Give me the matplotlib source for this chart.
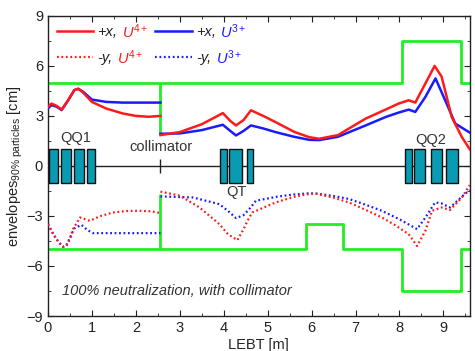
import numpy as np
import matplotlib
matplotlib.use("Agg")
import matplotlib.pyplot as plt

plt.rcParams['font.family'] = ['Liberation Sans', 'DejaVu Sans']
plt.rcParams['mathtext.fontset'] = 'custom'
plt.rcParams['mathtext.rm'] = 'Liberation Sans'
plt.rcParams['mathtext.it'] = 'Liberation Sans:italic'
plt.rcParams['mathtext.bf'] = 'Liberation Sans:bold'

nan = np.nan
# +x, U4+
x_red_x = [0, 0.08, 0.2, 0.31, 0.45, 0.6, 0.69, 0.8, 1.0, 1.33, 1.7, 2.0, 2.3, 2.56, nan,
           2.56, 3.0, 3.5, 3.98, 4.15, 4.28, 4.45, 4.62, 4.9, 5.18, 5.6, 5.94, 6.17, 6.6, 7.23,
           7.7, 7.98, 8.21, 8.36, 8.59, 8.8, 8.96, 9.19, 9.42, 9.6]
y_red_x = [3.55, 3.74, 3.6, 3.38, 3.9, 4.55, 4.64, 4.4, 3.84, 3.44, 3.15, 3.0, 2.95, 3.0, nan,
           1.85, 2.03, 2.5, 3.17, 2.7, 2.43, 2.75, 3.34, 3.0, 2.63, 2.05, 1.73, 1.63, 1.85, 2.84,
           3.4, 3.74, 3.94, 3.8, 4.95, 6.0, 5.35, 2.93, 1.73, 1.0]
# +x, U3+
x_blue_x = [0, 0.08, 0.2, 0.31, 0.45, 0.6, 0.69, 0.8, 1.0, 1.33, 1.7, 2.0, 2.3, 2.56, nan,
            2.56, 3.0, 3.5, 3.98, 4.15, 4.28, 4.45, 4.62, 4.9, 5.18, 5.6, 5.94, 6.17, 6.6, 7.23,
            7.7, 7.98, 8.21, 8.36, 8.59, 8.82, 9.04, 9.27, 9.6]
y_blue_x = [3.45, 3.65, 3.55, 3.35, 3.9, 4.55, 4.62, 4.45, 3.98, 3.84, 3.8, 3.8, 3.8, 3.8, nan,
            1.93, 1.95, 2.15, 2.47, 2.1, 1.83, 2.1, 2.43, 2.25, 2.03, 1.75, 1.57, 1.55, 1.75, 2.43,
            2.95, 3.2, 3.38, 3.24, 4.14, 5.25, 3.94, 2.54, 2.0]
# -y, U4+
x_red_y = [0, 0.12, 0.25, 0.35, 0.42, 0.5, 0.57, 0.73, 0.95, 1.2, 1.48, 1.8, 2.09, 2.35, 2.56, nan,
           2.56, 3.0, 3.45, 3.9, 4.1, 4.31, 4.45, 4.54, 4.65, 5.18, 5.6, 5.94, 6.09, 6.5, 6.85,
           7.2, 7.6, 7.9, 8.21, 8.4, 8.59, 8.74, 8.96, 9.15, 9.42, 9.6]
y_red_y = [-3.49, -4.09, -4.6, -4.86, -4.8, -4.4, -3.79, -3.09, -3.29, -3.0, -2.79, -2.7, -2.69, -2.72, -2.83, nan,
           -1.54, -1.78, -2.49, -3.49, -4.1, -4.45, -3.8, -3.29, -2.79, -2.19, -1.85, -1.68, -1.66, -1.9, -2.19,
           -2.6, -3.09, -3.55, -4.09, -4.8, -3.89, -2.69, -2.49, -2.64, -1.89, -1.15]
# -y, U3+
x_blue_y = [0, 0.12, 0.25, 0.35, 0.42, 0.5, 0.6, 0.76, 0.9, 1.03, 1.5, 2.0, 2.56, nan,
            2.56, 3.3, 3.9, 4.1, 4.28, 4.45, 4.58, 4.73, 5.2, 5.56, 5.94, 6.09, 6.5, 6.85, 7.2,
            7.6, 8.0, 8.4, 8.59, 8.81, 8.96, 9.15, 9.49, 9.6]
y_blue_y = [-3.5, -4.1, -4.6, -4.85, -4.75, -4.3, -3.75, -3.53, -3.85, -4.03, -4.03, -4.03, -4.03, nan,
            -1.83, -1.89, -2.29, -2.7, -3.13, -2.95, -2.59, -2.09, -1.85, -1.72, -1.64, -1.65, -1.8, -1.98, -2.3,
            -2.69, -3.2, -3.79, -3.09, -2.19, -2.25, -2.49, -1.68, -1.45]

# apertures (steps-post)
ap_top_x = [0, 8.06, 9.39, 9.6]
ap_top_y = [5, 7.5, 5, 5]
ap_bot_x = [0, 5.87, 6.72, 8.06, 9.39, 9.6]
ap_bot_y = [-5, -3.5, -5, -7.5, -5, -5]
collimator_x = 2.56
collimator_top = [1.9, 5]
collimator_bot = [-5, -1.7]

# magnets (start, end)
mag_start = [0.02, 0.29, 0.59, 0.88, 3.92, 4.13, 4.54, 8.12, 8.34, 8.71, 9.07]
mag_end = [0.23, 0.52, 0.82, 1.07, 4.08, 4.42, 4.67, 8.28, 8.59, 8.96, 9.34]
mag_half = 1.0

labels = ["QQ1", "collimator", "QT", "QQ2"]
label_x = [0.62, 2.56, 4.28, 8.72]
label_y = [1.65, 1.15, -1.55, 1.55]

fig = plt.figure(figsize=(4.75, 3.51), dpi=100)
ax = fig.add_axes([0.101, 0.0997, 0.888, 0.855])

RED = '#ff1a1a'
BLUE = '#1a1aff'
GREEN = '#22ee22'

ax.plot(ap_top_x, ap_top_y, drawstyle='steps-post', color=GREEN, lw=2, zorder=2)
ax.plot(ap_bot_x, ap_bot_y, drawstyle='steps-post', color=GREEN, lw=2, zorder=2)
ax.vlines([collimator_x], [collimator_top[0]], [collimator_top[1]], color=GREEN, lw=2, zorder=2)
ax.vlines([collimator_x], [collimator_bot[0]], [collimator_bot[1]], color=GREEN, lw=2, zorder=2)

# beam line and magnets
ax.axhline(0, color='#222222', lw=1, zorder=1)
ax.vlines([collimator_x], [-0.4], [0.4], color='#222222', lw=1, zorder=1)
widths = [e - s for s, e in zip(mag_start, mag_end)]
ax.bar(mag_start, [2 * mag_half] * len(mag_start), width=widths, bottom=-mag_half,
       align='edge', color='#0a9bb4', edgecolor='#111111', lw=1, zorder=3)

l1, = ax.plot(x_red_x, y_red_x, color=RED, lw=1.8, zorder=5)
l2, = ax.plot(x_blue_x, y_blue_x, color=BLUE, lw=1.8, zorder=4)
l3, = ax.plot(x_red_y, y_red_y, color=RED, lw=1.6, ls=(0, (0.8, 1.2)), zorder=5)
l4, = ax.plot(x_blue_y, y_blue_y, color=BLUE, lw=1.6, ls=(0, (0.8, 1.2)), zorder=4)

for t, xx, yy in zip(labels, label_x, label_y):
    ax.text(xx, yy, t, ha='center', va='center', fontsize=10.5, color='#333333', zorder=6)

ax.text(0.31, -7.5, "100% neutralization, with collimator", fontsize=10.5, style='italic',
        color='#333333', va='center', ha='left')

ax.set_xlim(0, 9.6)
ax.set_ylim(-9, 9)
ax.set_xticks(range(0, 10))
ax.set_yticks([-9, -6, -3, 0, 3, 6, 9])
ax.set_xticks(np.arange(0.5, 9.6, 1), minor=True)
ax.set_yticks(np.arange(-7.5, 9, 3), minor=True)
ax.tick_params(which='both', direction='in', top=True, right=True, labelsize=10.5, colors='#222222')
ax.tick_params(which='major', length=4)
ax.tick_params(which='minor', length=2.5)
for s in ax.spines.values():
    s.set_linewidth(1.0)
    s.set_color('#222222')
ax.set_xlabel("LEBT [m]", fontsize=10.5, labelpad=2, color='#222222')
ax.set_ylabel(r"envelopes$_{\mathrm{90\%\ particles}}$ [cm]", fontsize=10.5, labelpad=1, color='#222222')

leg = ax.legend([l1, l3, l2, l4], ["+x,", "-y,", "+x,", "-y,"], loc='upper left', ncol=2,
                frameon=False, fontsize=10.5, handlelength=2.5, handletextpad=0.3,
                columnspacing=2.6, borderaxespad=0.2, labelspacing=0.85, bbox_to_anchor=(0.0, 1.0))
for t in leg.get_texts():
    t.set_style('italic')
    t.set_color('#222222')

fig.canvas.draw()
ion = [r"$U^{4+}$", r"$U^{4+}$", r"$U^{3+}$", r"$U^{3+}$"]
ion_col = [RED, RED, BLUE, BLUE]
renderer = fig.canvas.get_renderer()
for t, s, c in zip(leg.get_texts(), ion, ion_col):
    bb = t.get_window_extent(renderer)
    ax.annotate(s, xy=(bb.x1 + 4, (bb.y0 + bb.y1) / 2), xycoords='figure pixels',
                fontsize=10.5, color=c, va='center', ha='left')

fig.savefig("out.png", dpi=100)
